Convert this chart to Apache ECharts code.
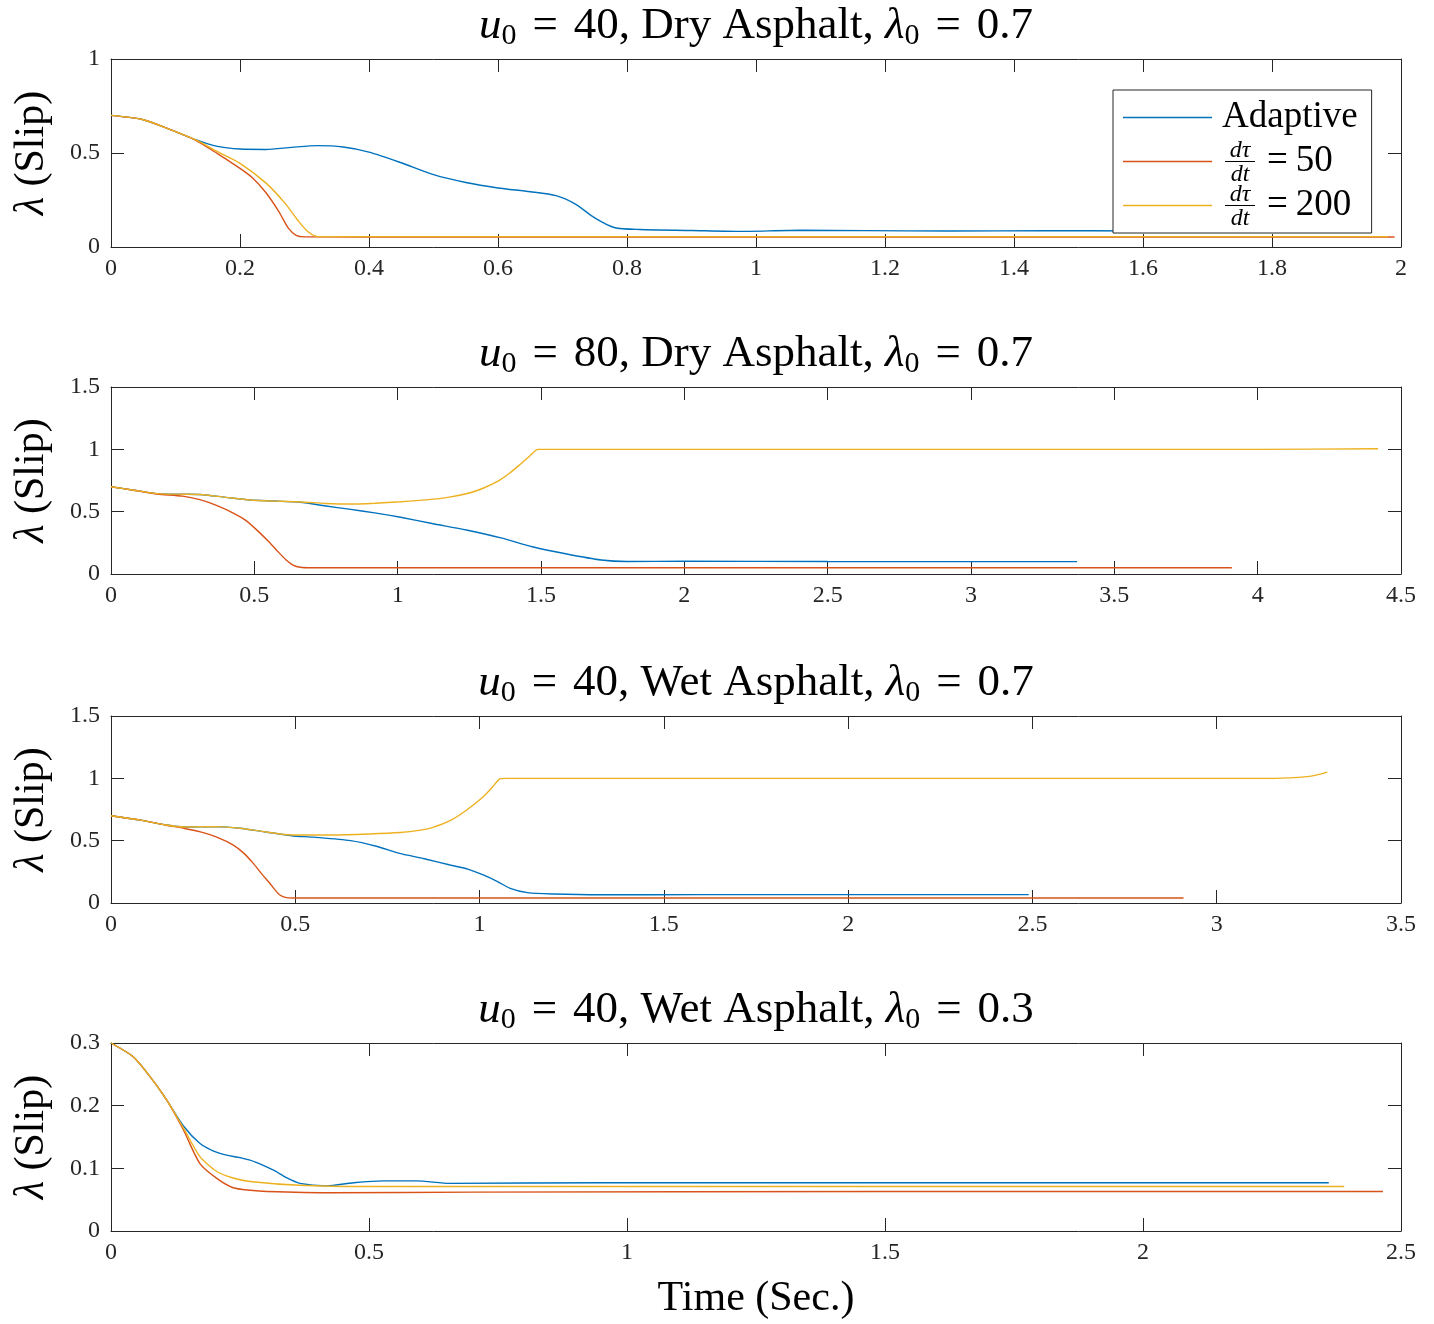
<!DOCTYPE html>
<html><head><meta charset="utf-8">
<script src="https://cdn.jsdelivr.net/npm/echarts@6/dist/echarts.min.js"></script>
<style>html,body{margin:0;padding:0;background:#fff}#c{width:1434px;height:1324px}</style>
</head><body><div id="c"></div>
<script>
// ---------- data ----------
const seriesNames = ['Adaptive', 'dτ/dt = 50', 'dτ/dt = 200'];
const titleParts = [['40', 'Dry', '0.7'], ['80', 'Dry', '0.7'], ['40', 'Wet', '0.7'], ['40', 'Wet', '0.3']];
const xMaxes = [2, 4.5, 3.5, 2.5];
const xSteps = [0.2, 0.5, 0.5, 0.5];
const yMaxes = [1, 1.5, 1.5, 0.3];
const ySteps = [0.5, 0.5, 0.5, 0.1];

const adaptive1 = [[0,0.700],[0.05,0.677],[0.09,0.627],[0.13,0.572],[0.165,0.535],[0.2,0.521],[0.24,0.519],[0.28,0.530],[0.32,0.539],[0.36,0.532],[0.40,0.505],[0.45,0.448],[0.50,0.385],[0.55,0.343],[0.60,0.314],[0.65,0.294],[0.69,0.273],[0.72,0.228],[0.75,0.155],[0.78,0.104],[0.82,0.093],[0.90,0.088],[0.97,0.083],[1.07,0.089],[1.17,0.087],[1.30,0.085],[1.45,0.087],[1.60,0.085]];
const rate50_1 = [[0,0.700],[0.05,0.677],[0.09,0.627],[0.13,0.570],[0.165,0.497],[0.20,0.418],[0.22,0.366],[0.24,0.29],[0.26,0.19],[0.275,0.10],[0.287,0.062],[0.30,0.054],[0.50,0.053],[1.00,0.053],[1.50,0.053],[1.99,0.053]];
const rate200_1 = [[0,0.700],[0.05,0.677],[0.09,0.627],[0.13,0.572],[0.165,0.507],[0.20,0.445],[0.24,0.341],[0.27,0.232],[0.29,0.14],[0.305,0.082],[0.317,0.058],[0.33,0.055],[0.60,0.055],[1.00,0.055],[1.50,0.055],[1.98,0.055]];

const adaptive2 = [[0,0.700],[0.08,0.672],[0.16,0.645],[0.25,0.640],[0.31,0.638],[0.40,0.615],[0.485,0.594],[0.57,0.585],[0.66,0.575],[0.75,0.545],[0.83,0.52],[0.92,0.49],[1.01,0.455],[1.12,0.405],[1.24,0.353],[1.36,0.29],[1.47,0.219],[1.59,0.16],[1.71,0.112],[1.80,0.100],[2.00,0.102],[2.50,0.100],[3.00,0.099],[3.37,0.099]];
const rate50_2 = [[0,0.700],[0.08,0.672],[0.16,0.642],[0.25,0.625],[0.31,0.596],[0.37,0.548],[0.43,0.485],[0.47,0.43],[0.51,0.350],[0.55,0.260],[0.58,0.185],[0.61,0.115],[0.635,0.072],[0.66,0.054],[0.70,0.050],[1.50,0.050],[3.00,0.050],[3.91,0.050]];
const rate200_2 = [[0,0.700],[0.08,0.672],[0.16,0.645],[0.25,0.640],[0.31,0.638],[0.40,0.615],[0.485,0.594],[0.57,0.585],[0.66,0.578],[0.75,0.566],[0.83,0.561],[0.92,0.568],[1.01,0.580],[1.10,0.595],[1.18,0.617],[1.25,0.650],[1.30,0.690],[1.35,0.745],[1.39,0.808],[1.43,0.885],[1.46,0.945],[1.49,1.000],[2.00,1.000],[3.00,1.000],[4.00,1.000],[4.42,1.005]];

const adaptive3 = [[0,0.700],[0.08,0.665],[0.15,0.626],[0.20,0.610],[0.287,0.613],[0.35,0.600],[0.42,0.570],[0.49,0.540],[0.55,0.528],[0.65,0.500],[0.72,0.455],[0.78,0.400],[0.85,0.355],[0.92,0.305],[0.97,0.270],[1.01,0.225],[1.05,0.170],[1.083,0.118],[1.13,0.083],[1.20,0.072],[1.33,0.066],[1.60,0.067],[2.00,0.067],[2.49,0.067]];
const rate50_3 = [[0,0.700],[0.08,0.665],[0.15,0.624],[0.20,0.598],[0.24,0.572],[0.29,0.525],[0.332,0.465],[0.36,0.40],[0.386,0.318],[0.41,0.23],[0.431,0.158],[0.445,0.105],[0.458,0.064],[0.476,0.043],[0.50,0.040],[1.50,0.040],[2.91,0.040]];
const rate200_3 = [[0,0.700],[0.08,0.665],[0.15,0.626],[0.20,0.610],[0.287,0.613],[0.35,0.600],[0.42,0.570],[0.49,0.545],[0.60,0.545],[0.70,0.553],[0.784,0.565],[0.84,0.585],[0.874,0.607],[0.92,0.660],[0.965,0.746],[1.01,0.853],[1.035,0.93],[1.055,0.995],[1.07,1.000],[2.00,1.000],[3.00,1.000],[3.14,1.000],[3.22,1.008],[3.26,1.020],[3.30,1.050]];

const adaptive4 = [[0,0.300],[0.043,0.278],[0.076,0.246],[0.108,0.209],[0.14,0.168],[0.172,0.140],[0.20,0.127],[0.224,0.121],[0.25,0.117],[0.28,0.110],[0.315,0.097],[0.34,0.085],[0.366,0.076],[0.418,0.072],[0.47,0.077],[0.528,0.080],[0.592,0.080],[0.657,0.076],[0.95,0.077],[1.50,0.077],[2.00,0.077],[2.36,0.077]];
const rate50_4 = [[0,0.300],[0.043,0.278],[0.076,0.246],[0.108,0.209],[0.14,0.162],[0.172,0.108],[0.205,0.084],[0.237,0.069],[0.27,0.065],[0.302,0.063],[0.43,0.061],[0.70,0.062],[1.50,0.063],[2.465,0.063]];
const rate200_4 = [[0,0.300],[0.043,0.278],[0.076,0.246],[0.108,0.209],[0.14,0.165],[0.172,0.119],[0.205,0.095],[0.235,0.085],[0.269,0.079],[0.366,0.073],[0.495,0.071],[1.00,0.071],[2.39,0.071]];

const panels = [
  [adaptive1, rate50_1, rate200_1],
  [adaptive2, rate50_2, rate200_2],
  [adaptive3, rate50_3, rate200_3],
  [adaptive4, rate50_4, rate200_4]
];

// ---------- style / layout ----------
const FONT = 'Liberation Serif';
const colors = ['#0072BD', '#D95319', '#EDB120'];
const axisColor = '#262626';
const gridLeft = 111, gridRight = 33;
const gridTops = [59, 387, 716, 1043];
const gridHeights = [188, 187, 187, 188];
const plotCenterX = gridLeft + (1434 - gridLeft - gridRight) / 2;
const TICK = 13;

const grids = [], xAxes = [], yAxes = [], series = [], titles = [];

for (let g = 0; g < 4; g++) {
  grids.push({ left: gridLeft, right: gridRight, top: gridTops[g], height: gridHeights[g], show: false });
  const lineCommon = { show: true, onZero: false, lineStyle: { color: axisColor, width: 1 } };
  const tickCommon = { show: true, inside: true, length: TICK, lineStyle: { color: axisColor, width: 1 } };
  const labelStyle = { color: axisColor, fontFamily: FONT, fontSize: 24 };
  xAxes.push({
    type: 'value', gridIndex: g, position: 'bottom', min: 0, max: xMaxes[g], interval: xSteps[g],
    axisLine: lineCommon, axisTick: tickCommon, splitLine: { show: false },
    axisLabel: Object.assign({ margin: 10 }, labelStyle),
    name: g === 3 ? 'Time (Sec.)' : '', nameLocation: 'middle', nameGap: 47,
    nameTextStyle: { fontFamily: FONT, fontSize: 42, color: '#000', fontWeight: 'normal' }
  });
  xAxes.push({
    type: 'value', gridIndex: g, position: 'top', min: 0, max: xMaxes[g], interval: xSteps[g],
    axisLine: lineCommon, axisTick: tickCommon, splitLine: { show: false }, axisLabel: { show: false }
  });
  yAxes.push({
    type: 'value', gridIndex: g, position: 'left', min: 0, max: yMaxes[g], interval: ySteps[g],
    axisLine: lineCommon, axisTick: tickCommon, splitLine: { show: false },
    axisLabel: Object.assign({ margin: 11 }, labelStyle),
    name: '{i|λ} (Slip)', nameLocation: 'middle', nameGap: 58,
    nameTextStyle: { fontFamily: FONT, fontSize: 42, color: '#000', fontWeight: 'normal',
      rich: { i: { fontFamily: FONT, fontSize: 42, fontStyle: 'italic', color: '#000' } } }
  });
  yAxes.push({
    type: 'value', gridIndex: g, position: 'right', min: 0, max: yMaxes[g], interval: ySteps[g],
    axisLine: lineCommon, axisTick: tickCommon, splitLine: { show: false }, axisLabel: { show: false }
  });
  panels[g].forEach((d, k) => {
    series.push({
      type: 'line', name: seriesNames[k], data: d, xAxisIndex: 2 * g, yAxisIndex: 2 * g,
      symbol: 'none', smooth: 0.25, color: colors[k],
      lineStyle: { color: colors[k], width: 1.4 }, z: 2 + k
    });
  });
  const p = titleParts[g];
  titles.push({
    left: plotCenterX, top: gridTops[g] - 58, textAlign: 'center', padding: 0,
    text: '{i|u}{s|0}{e|=}{n|' + p[0] + ', ' + p[1] + ' Asphalt, }{i|λ}{s|0}{e|=}{n|' + p[2] + '}',
    textStyle: {
      fontWeight: 'normal', fontFamily: FONT,
      rich: {
        n: { fontFamily: FONT, fontSize: 45, fontWeight: 'normal', color: '#000', lineHeight: 50 },
        i: { fontFamily: FONT, fontSize: 45, fontWeight: 'normal', fontStyle: 'italic', color: '#000', lineHeight: 50 },
        e: { fontFamily: FONT, fontSize: 45, fontWeight: 'normal', color: '#000', lineHeight: 50, padding: [0, 16, 0, 16] },
        s: { fontFamily: FONT, fontSize: 30, fontWeight: 'normal', color: '#000', lineHeight: 28, verticalAlign: 'bottom' }
      }
    }
  });
}

// legend layout
const LEG_LEFT = 1113, LEG_TOP = 90, LEG_PAD = [9, 14, 9, 10], ROW_H = 35, ROW_GAP = 7, ICON_W = 89;
const ROW_PITCH = 44, ROW_HALF = 18.5;
const fracX = LEG_LEFT + LEG_PAD[3] + ICON_W + 5 + 23;
const graphics = [];
[1, 2].forEach(r => {
  const cy = LEG_TOP + LEG_PAD[0] + ROW_HALF + r * ROW_PITCH;
  graphics.push({ type: 'text', z: 100, style: { text: 'dτ', x: fracX, y: cy - 11, align: 'center', verticalAlign: 'middle', textAlign: 'center', textVerticalAlign: 'middle', font: 'italic 24px "Liberation Serif"', fill: '#000' } });
  graphics.push({ type: 'line', z: 100, shape: { x1: fracX - 15, y1: cy, x2: fracX + 15, y2: cy }, style: { stroke: '#000', lineWidth: 1 } });
  graphics.push({ type: 'text', z: 100, style: { text: 'dt', x: fracX, y: cy + 13, align: 'center', verticalAlign: 'middle', textAlign: 'center', textVerticalAlign: 'middle', font: 'italic 24px "Liberation Serif"', fill: '#000' } });
});

const option = {
  animation: false,
  backgroundColor: '#fff',
  title: titles,
  grid: grids,
  xAxis: xAxes,
  yAxis: yAxes,
  series: series,
  legend: {
    data: seriesNames, orient: 'vertical', left: LEG_LEFT, top: LEG_TOP,
    padding: LEG_PAD, itemGap: ROW_GAP, itemWidth: ICON_W, itemHeight: 1.5, icon: 'rect',
    backgroundColor: '#fff', borderColor: axisColor, borderWidth: 1, borderRadius: 0,
    selectedMode: false, z: 50,
    formatter: function (name) {
      if (name === 'Adaptive') return '{t|Adaptive}';
      return '{f|}{e|=}{v|' + name.split('= ')[1] + '}';
    },
    textStyle: {
      fontFamily: FONT, fontWeight: 'normal',
      rich: {
        t: { fontFamily: FONT, fontSize: 37, color: '#000', lineHeight: ROW_H, padding: [0, 0, 0, 5] },
        f: { width: 46, lineHeight: ROW_H },
        e: { fontFamily: FONT, fontSize: 37, color: '#000', lineHeight: ROW_H, padding: [0, 8, 0, 4] },
        v: { fontFamily: FONT, fontSize: 37, color: '#000', lineHeight: ROW_H }
      }
    }
  },
  graphic: graphics
};

const chart = echarts.init(document.getElementById('c'), null, { renderer: 'canvas' });
chart.setOption(option);
</script>
</body></html>
